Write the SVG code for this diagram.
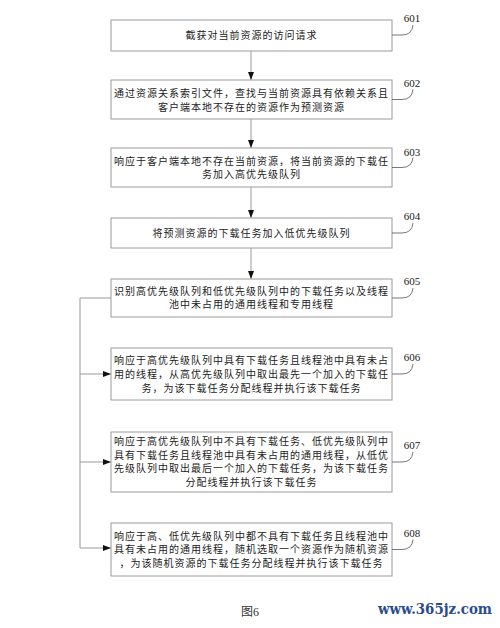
<svg xmlns="http://www.w3.org/2000/svg" width="500" height="628" viewBox="0 0 500 628">
<style>
.box{fill:#fff;stroke:#9a9a9a;stroke-width:1}
.t{font-family:"Noto Sans CJK SC","Noto Sans CJK JP",sans-serif;font-size:10px;letter-spacing:1px;fill:#222;text-anchor:middle}
.lbl{font-family:"Liberation Serif",serif;font-size:11px;fill:#222;text-anchor:middle}
.lead{fill:none;stroke:#555;stroke-width:0.8}
.con{fill:none;stroke:#999;stroke-width:1}
.cap{font-family:"Liberation Serif","Noto Sans CJK SC",serif;font-size:12px;fill:#333;text-anchor:middle}
.wm{font-family:"DejaVu Serif",serif;font-size:14px;font-weight:bold;fill:#2a4c8c}
</style>
<defs>
<marker id="ah" viewBox="0 0 8 6" refX="8" refY="3" markerWidth="8" markerHeight="6" markerUnits="userSpaceOnUse" orient="auto">
<path d="M0,0 L8,3 L0,6 z" fill="#111"/>
</marker>
</defs>
<rect width="500" height="628" fill="#fff"/>

<g id="connectors">
<line class="con" x1="251" y1="51" x2="251" y2="80" marker-end="url(#ah)"/>
<line class="con" x1="251" y1="119" x2="251" y2="148" marker-end="url(#ah)"/>
<line class="con" x1="251" y1="187" x2="251" y2="218" marker-end="url(#ah)"/>
<line class="con" x1="251" y1="248" x2="251" y2="279" marker-end="url(#ah)"/>
<polyline class="con" points="111,298 80,298 80,548"/>
<line class="con" x1="80" y1="374" x2="111" y2="374" marker-end="url(#ah)"/>
<line class="con" x1="80" y1="462" x2="111" y2="462" marker-end="url(#ah)"/>
<line class="con" x1="80" y1="548" x2="111" y2="548" marker-end="url(#ah)"/>
</g>

<g id="n601">
<rect class="box" x="111" y="20" width="281" height="31"/>
<text class="t" x="251.5" y="38.5">截获对当前资源的访问请求</text>
<path class="lead" d="M392,35 L402,35 Q412,35 413,25"/>
<text class="lbl" x="412" y="22">601</text>
</g>

<g id="n602">
<rect class="box" x="111" y="80" width="281" height="39"/>
<text class="t" x="251.5" y="97">通过资源关系索引文件，查找与当前资源具有依赖关系且</text>
<text class="t" x="251.5" y="110.5">客户端本地不存在的资源作为预测资源</text>
<path class="lead" d="M392,99.5 L402,99.5 Q412,99.5 413,89.5"/>
<text class="lbl" x="412" y="87">602</text>
</g>

<g id="n603">
<rect class="box" x="111" y="148" width="281" height="39"/>
<text class="t" x="251.5" y="164.5">响应于客户端本地不存在当前资源，将当前资源的下载任</text>
<text class="t" x="251.5" y="178">务加入高优先级队列</text>
<path class="lead" d="M392,167.5 L402,167.5 Q412,167.5 413,157.5"/>
<text class="lbl" x="412" y="155.5">603</text>
</g>

<g id="n604">
<rect class="box" x="111" y="218" width="281" height="30"/>
<text class="t" x="251.5" y="236.5">将预测资源的下载任务加入低优先级队列</text>
<path class="lead" d="M392,233 L402,233 Q412,233 413,223"/>
<text class="lbl" x="412" y="220">604</text>
</g>

<g id="n605">
<rect class="box" x="111" y="279" width="281" height="38"/>
<text class="t" x="251.5" y="294.5">识别高优先级队列和低优先级队列中的下载任务以及线程</text>
<text class="t" x="251.5" y="308">池中未占用的通用线程和专用线程</text>
<path class="lead" d="M392,298 L402,298 Q412,298 413,288"/>
<text class="lbl" x="412" y="285">605</text>
</g>

<g id="n606">
<rect class="box" x="111" y="348" width="281" height="52"/>
<text class="t" x="251.5" y="363.5">响应于高优先级队列中具有下载任务且线程池中具有未占</text>
<text class="t" x="251.5" y="377.5">用的线程，从高优先级队列中取出最先一个加入的下载任</text>
<text class="t" x="251.5" y="391.5">务，为该下载任务分配线程并执行该下载任务</text>
<path class="lead" d="M392,374 L402,374 Q412,374 413,364"/>
<text class="lbl" x="412" y="361">606</text>
</g>

<g id="n607">
<rect class="box" x="111" y="432" width="281" height="60"/>
<text class="t" x="251.5" y="445.25">响应于高优先级队列中不具有下载任务、低优先级队列中</text>
<text class="t" x="251.5" y="458.75">具有下载任务且线程池中具有未占用的通用线程，从低优</text>
<text class="t" x="251.5" y="472.25">先级队列中取出最后一个加入的下载任务，为该下载任务</text>
<text class="t" x="251.5" y="485.75">分配线程并执行该下载任务</text>
<path class="lead" d="M392,462 L402,462 Q412,462 413,452"/>
<text class="lbl" x="412" y="448.5">607</text>
</g>

<g id="n608">
<rect class="box" x="111" y="523" width="281" height="53"/>
<text class="t" x="251.5" y="539.5">响应于高、低优先级队列中都不具有下载任务且线程池中</text>
<text class="t" x="251.5" y="553">具有未占用的通用线程，随机选取一个资源作为随机资源</text>
<text class="t" x="251.5" y="566.5">，为该随机资源的下载任务分配线程并执行该下载任务</text>
<path class="lead" d="M392,549.5 L402,549.5 Q412,549.5 413,539.5"/>
<text class="lbl" x="412" y="537">608</text>
</g>

<text class="cap" x="250" y="616">图6</text>
<text class="wm" x="378" y="614" textLength="114" lengthAdjust="spacingAndGlyphs">www.365jz.com</text>
</svg>
